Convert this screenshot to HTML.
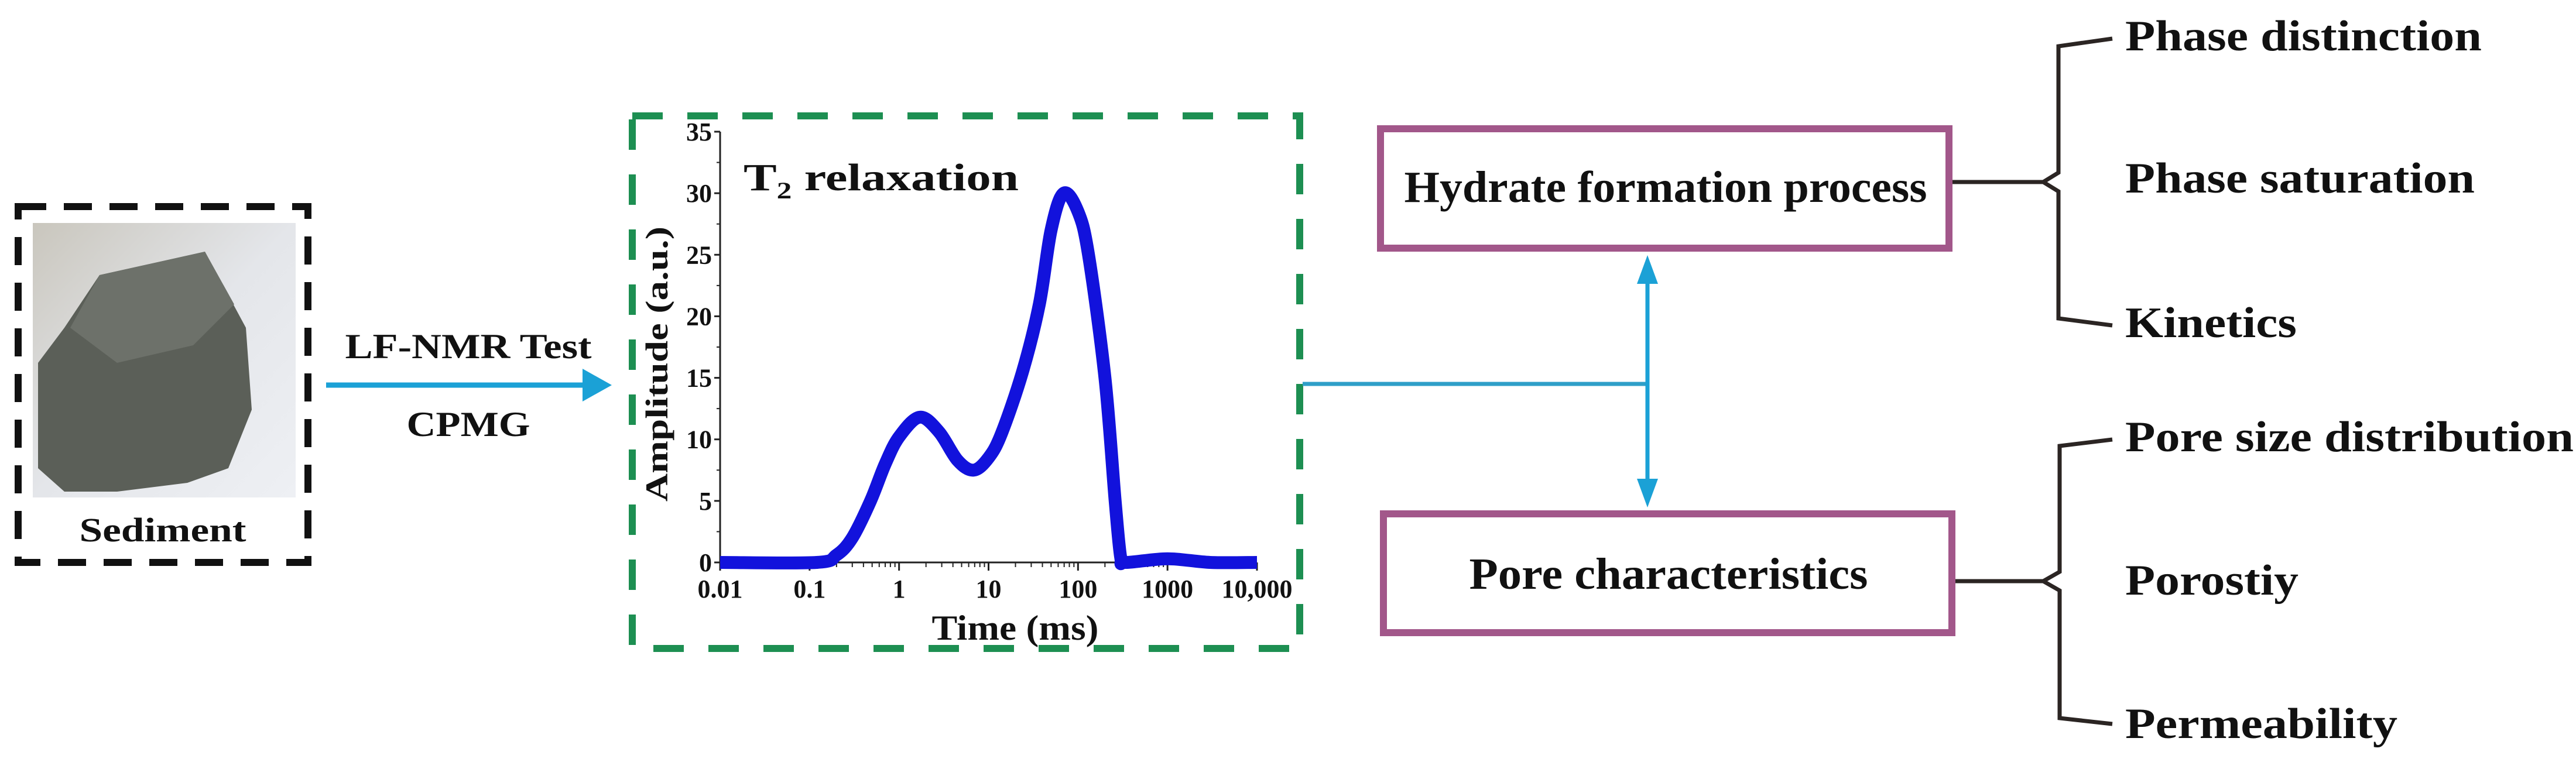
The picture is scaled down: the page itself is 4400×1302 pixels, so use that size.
<!DOCTYPE html>
<html><head><meta charset="utf-8"><style>
html,body{margin:0;padding:0;background:#fff;}
svg{display:block;}
text{font-family:"Liberation Serif",serif;font-weight:bold;fill:#111;}
</style></head><body>
<svg id="fig" width="4400" height="1302" viewBox="0 0 4400 1302" xmlns="http://www.w3.org/2000/svg">
  <rect width="4400" height="1302" fill="#fff"/>
  <g>
    <defs>
      <linearGradient id="bg" x1="0" y1="0" x2="1" y2="1">
        <stop offset="0" stop-color="#c9c6bd"/><stop offset="0.5" stop-color="#e4e6ea"/><stop offset="1" stop-color="#eef0f4"/>
      </linearGradient>
    </defs>
    <rect x="56" y="381" width="449" height="469" fill="url(#bg)"/>
    <polygon points="170,470 350,430 420,560 430,700 390,800 320,825 200,840 110,840 65,800 65,620 110,560" fill="#5b5f58"/>
    <polygon points="170,470 350,430 400,520 330,590 200,620 120,560" fill="#6d716a"/>
    <rect x="31" y="353" width="495" height="608" fill="none" stroke="#111" stroke-width="12" stroke-dasharray="48,30"/>
    <text x="278" y="925" font-size="58" text-anchor="middle" textLength="285" lengthAdjust="spacingAndGlyphs">Sediment</text>
  </g>
  <g>
    <line x1="557" y1="658" x2="1000" y2="658" stroke="#1ba1d6" stroke-width="9"/>
    <polygon points="1045,658 995,630 995,686" fill="#1ba1d6"/>
    <text x="800" y="612" font-size="60" text-anchor="middle" textLength="421" lengthAdjust="spacingAndGlyphs">LF-NMR Test</text>
    <text x="800" y="745" font-size="60" text-anchor="middle" textLength="211" lengthAdjust="spacingAndGlyphs">CPMG</text>
  </g>
  <rect x="1080" y="198" width="1140" height="910" fill="none" stroke="#1d8f52" stroke-width="12" stroke-dasharray="52,42"/>
  <g id="chart"></g>
  <g>
    <line x1="2225" y1="656" x2="2814" y2="656" stroke="#2f9fc8" stroke-width="7"/>
    <line x1="2814" y1="470" x2="2814" y2="835" stroke="#1ba1d6" stroke-width="7"/>
    <polygon points="2814,436 2796,485 2832,485" fill="#1ba1d6"/>
    <polygon points="2814,867 2796,818 2832,818" fill="#1ba1d6"/>
  </g>
  <rect x="2358" y="220" width="971" height="204" fill="#fff" stroke="#a2578a" stroke-width="12"/>
  <text x="2845" y="345" font-size="76" text-anchor="middle" textLength="893" lengthAdjust="spacingAndGlyphs">Hydrate formation process</text>
  <rect x="2363" y="878" width="971" height="203" fill="#fff" stroke="#a2578a" stroke-width="12"/>
  <text x="2850" y="1006" font-size="76" text-anchor="middle" textLength="681" lengthAdjust="spacingAndGlyphs">Pore  characteristics</text>
  <g fill="none" stroke="#2b2523" stroke-width="7">
    <line x1="3335" y1="311" x2="3490" y2="311"/>
    <path d="M3608,66 L3516,79 L3516,295 L3490,311 L3516,327 L3516,544 L3608,556"/>
  </g>
  <g fill="none" stroke="#2b2523" stroke-width="7">
    <line x1="3340" y1="993" x2="3490" y2="993"/>
    <path d="M3608,751 L3518,762 L3518,977 L3490,993 L3518,1009 L3518,1227 L3608,1237"/>
  </g>
  <g>
    <text x="3630" y="86" font-size="74" textLength="609" lengthAdjust="spacingAndGlyphs">Phase distinction</text>
    <text x="3630" y="329" font-size="74" textLength="597" lengthAdjust="spacingAndGlyphs">Phase saturation</text>
    <text x="3630" y="576" font-size="74" textLength="293" lengthAdjust="spacingAndGlyphs">Kinetics</text>
    <text x="3630" y="771" font-size="74" textLength="766" lengthAdjust="spacingAndGlyphs">Pore size distribution</text>
    <text x="3630" y="1016" font-size="74" textLength="296" lengthAdjust="spacingAndGlyphs">Porostiy</text>
    <text x="3630" y="1261" font-size="74" textLength="465" lengthAdjust="spacingAndGlyphs">Permeability</text>
  </g>
</svg>
<script>
const timeMs = [0.01,0.12,0.2,0.3,0.48,0.7,1.0,1.7,2.8,4.5,6.8,10,14,24,37,50,69,100,131,200,260,300,340,1000,3000,10000];
const amplitude = [0,0,0.6,2,5,8,10.2,11.8,10.6,8.3,7.5,8.5,10.5,15.5,21,27,30,28.5,25,15,5,0.4,0,0.3,0,0];
const xTickValues = [0.01,0.1,1,10,100,1000,10000];
const xTickLabels = ["0.01","0.1","1","10","100","1000","10,000"];
const yTickValues = [0,5,10,15,20,25,30,35];
const yTickLabels = ["0","5","10","15","20","25","30","35"];

const NS="http://www.w3.org/2000/svg";
const g=document.getElementById('chart');
const X0=1230,X1=2147,Y0=961,Y1=225,YMAX=35;
const xs=v=>X0+(Math.log10(v)+2)/6*(X1-X0);
const ys=v=>Y0-v/YMAX*(Y0-Y1);
function mk(tag,attrs){const e=document.createElementNS(NS,tag);for(const k in attrs)e.setAttribute(k,attrs[k]);g.appendChild(e);return e;}

let ax=mk('path',{d:`M${X0},${Y1} L${X0},${Y0} L${X1},${Y0}`,fill:'none',stroke:'#222','stroke-width':3});


yTickValues.forEach((v,i)=>{
  mk('line',{x1:X0-10,x2:X0,y1:ys(v),y2:ys(v),stroke:'#222','stroke-width':3});
  if(i<yTickValues.length-1) mk('line',{x1:X0-6,x2:X0,y1:ys(v+2.5),y2:ys(v+2.5),stroke:'#222','stroke-width':2});
  const t=mk('text',{x:X0-14,y:ys(v)+15,'font-size':44,'text-anchor':'end','font-weight':'normal'});
  t.textContent=yTickLabels[i];
  
  
});
xTickValues.forEach((v,i)=>{
  mk('line',{x1:xs(v),x2:xs(v),y1:Y0,y2:Y0+14,stroke:'#222','stroke-width':3});
  if(i<xTickValues.length-1) for(let m=2;m<10;m++) mk('line',{x1:xs(v*m),x2:xs(v*m),y1:Y0,y2:Y0+8,stroke:'#222','stroke-width':2});
  const t=mk('text',{x:xs(v),y:1021,'font-size':44,'text-anchor':'middle','font-weight':'normal'});
  t.textContent=xTickLabels[i];
  
  
});
const P=timeMs.map((t,i)=>[xs(t),ys(amplitude[i])]);
let d=`M${P[0][0]},${P[0][1]}`;
for(let i=0;i<P.length-1;i++){
  const p0=P[Math.max(0,i-1)],p1=P[i],p2=P[i+1],p3=P[Math.min(P.length-1,i+2)];
  const c1=[p1[0]+(p2[0]-p0[0])/6,p1[1]+(p2[1]-p0[1])/6];
  const c2=[p2[0]-(p3[0]-p1[0])/6,p2[1]-(p3[1]-p1[1])/6];
  d+=` C${c1[0]},${c1[1]} ${c2[0]},${c2[1]} ${p2[0]},${p2[1]}`;
}
const line=mk('path',{d:d,fill:'none',stroke:'#1212dc','stroke-width':22,'stroke-linejoin':'round'});


let tt=mk('text',{x:1270,y:325,'font-size':66,textLength:470,lengthAdjust:'spacingAndGlyphs'});
tt.innerHTML='T<tspan font-size="40" dy="14">2</tspan><tspan dy="-14"> relaxation</tspan>';


let xt=mk('text',{x:1734,y:1093,'font-size':60,'text-anchor':'middle',textLength:285,lengthAdjust:'spacingAndGlyphs'});
xt.textContent='Time (ms)';


let yt=mk('text',{x:0,y:0,'font-size':54,'text-anchor':'middle',transform:'translate(1140,622) rotate(-90)',textLength:470,lengthAdjust:'spacingAndGlyphs'});
yt.textContent='Amplitude (a.u.)';


</script>
</body></html>
